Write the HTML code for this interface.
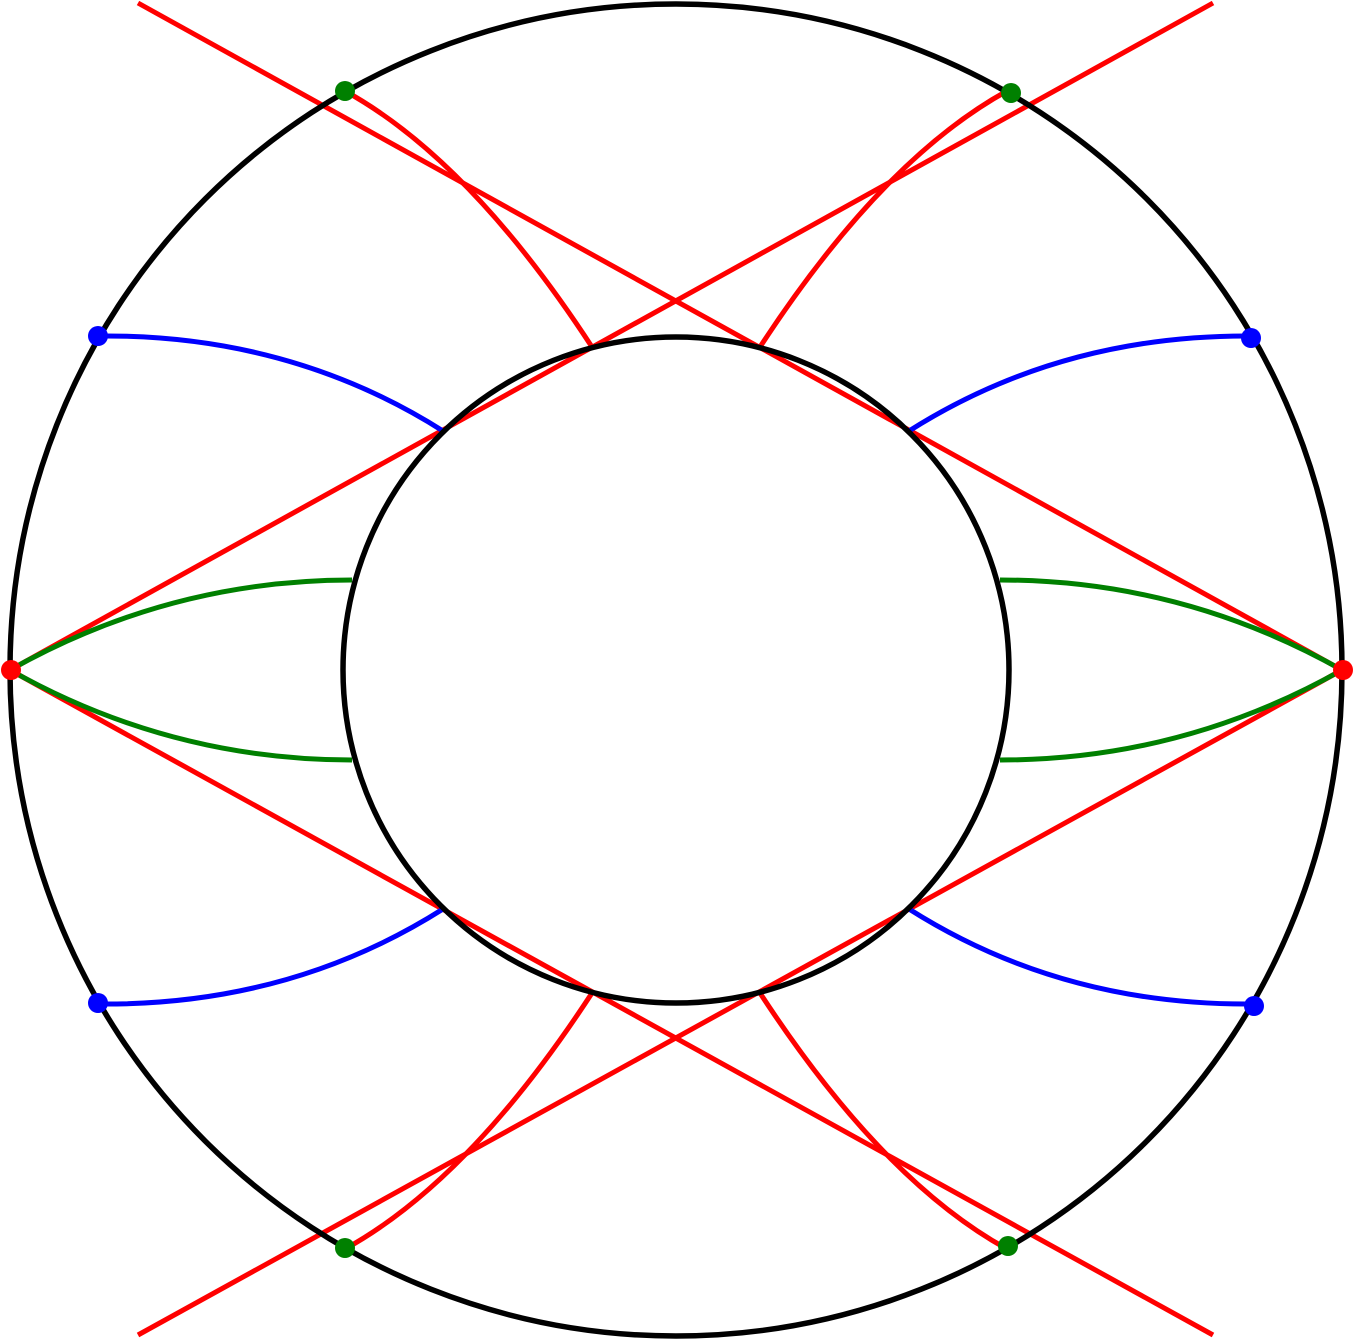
<!DOCTYPE html>
<html><head><style>html,body{margin:0;padding:0;background:#fff;}svg{display:block;}</style></head>
<body>
<svg width="1355" height="1340" viewBox="0 0 1355 1340" xmlns="http://www.w3.org/2000/svg">
<defs>
<g id="q">
  <path d="M345,91 Q470,160 592,347" fill="none" stroke="#ff0000" stroke-width="5"/>
  <path d="M98,336 Q290,334 443,431" fill="none" stroke="#0000ff" stroke-width="5"/>
  <path d="M10,670 Q170,580 352,580" fill="none" stroke="#008000" stroke-width="5"/>
</g>
</defs>
<g stroke="#ff0000" stroke-width="5" fill="none">
  <line x1="138" y1="3" x2="1342" y2="670"/>
  <line x1="1213" y1="3" x2="10" y2="670"/>
  <line x1="10" y1="670" x2="1213" y2="1335"/>
  <line x1="1342" y1="670" x2="138" y2="1335"/>
</g>
<use href="#q"/>
<use href="#q" transform="translate(1352,0) scale(-1,1)"/>
<use href="#q" transform="translate(0,1340) scale(1,-1)"/>
<use href="#q" transform="translate(1352,1340) scale(-1,-1)"/>
<circle cx="676" cy="670" r="666" fill="none" stroke="#000" stroke-width="5.5"/>
<circle cx="676" cy="670" r="333" fill="none" stroke="#000" stroke-width="5.5"/>
<g fill="#008000">
  <circle cx="345" cy="91" r="10"/><circle cx="1011" cy="93" r="10"/>
  <circle cx="345" cy="1248" r="10"/><circle cx="1008" cy="1246" r="10"/>
</g>
<g fill="#0000ff">
  <circle cx="98" cy="336" r="10"/><circle cx="1251" cy="338" r="10"/>
  <circle cx="98" cy="1003" r="10"/><circle cx="1254" cy="1006" r="10"/>
</g>
<g fill="#ff0000">
  <circle cx="11" cy="670" r="10"/><circle cx="1343" cy="670" r="10"/>
</g>
</svg>
</body></html>
